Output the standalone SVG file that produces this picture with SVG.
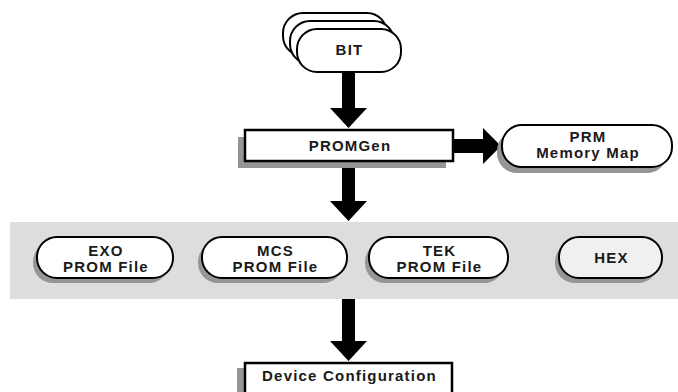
<svg xmlns="http://www.w3.org/2000/svg" width="678" height="392" viewBox="0 0 678 392">
<style>
.t{font-family:"Liberation Sans",Arial,sans-serif;font-weight:bold;font-size:15px;letter-spacing:1.2px;fill:#1a1a1a;text-anchor:middle}
.pill{fill:#fff;stroke:#000;stroke-width:2}
.box{fill:#fff;stroke:#000;stroke-width:2.5}
.sh{fill:#959595}
.arr{fill:#000}
</style>
<rect x="0" y="0" width="678" height="392" fill="#fff"/>
<rect id="band" x="10" y="222" width="668" height="77" fill="#dddddd"/>
<g id="connectors">
<path class="arr" d="M342,72 H355 V108 H367 L348.5,128 L330,108 H342 Z"/>
<path class="arr" d="M342,161 H355 V201 H367 L348.5,221 L330,201 H342 Z"/>
<path class="arr" d="M342,299 H355 V341 H367 L348.5,361 L330,341 H342 Z"/>
<path class="arr" d="M453,139 H483 V128 L501,146 L483,164 V153 H453 Z"/>
</g>
<g id="bit">
<rect class="pill" x="283" y="13" width="104" height="43" rx="20"/>
<rect class="pill" x="290" y="21" width="104" height="43" rx="20"/>
<rect class="pill" x="297" y="29" width="104" height="43" rx="20"/>
<text class="t" x="349.5" y="55">BIT</text>
</g>
<g id="promgen">
<rect class="sh" x="238" y="137" width="208" height="31"/>
<rect class="box" x="245" y="130" width="208" height="31"/>
<text class="t" x="350" y="151">PROMGen</text>
</g>
<g id="prm">
<rect class="sh" x="497" y="131" width="170" height="42" rx="20"/>
<rect class="pill" x="502" y="125" width="170" height="42" rx="20"/>
<text class="t" x="588" y="142">PRM</text>
<text class="t" x="588" y="158">Memory Map</text>
</g>
<g id="exo">
<rect class="sh" x="33" y="242" width="136" height="41" rx="20"/>
<rect class="pill" x="37" y="237" width="136" height="41" rx="20"/>
<text class="t" x="106" y="256">EXO</text>
<text class="t" x="106" y="272">PROM File</text>
</g>
<g id="mcs">
<rect class="sh" x="198" y="242" width="145" height="41" rx="20"/>
<rect class="pill" x="202" y="237" width="145" height="41" rx="20"/>
<text class="t" x="275.5" y="256">MCS</text>
<text class="t" x="275.5" y="272">PROM File</text>
</g>
<g id="tek">
<rect class="sh" x="365" y="242" width="139" height="41" rx="20"/>
<rect class="pill" x="369" y="237" width="139" height="41" rx="20"/>
<text class="t" x="439.5" y="256">TEK</text>
<text class="t" x="439.5" y="272">PROM File</text>
</g>
<g id="hex">
<rect class="sh" x="555" y="242" width="103" height="41" rx="20"/>
<rect class="pill" x="559" y="237" width="103" height="41" rx="20" style="fill:#f0f0f0"/>
<text class="t" x="611.5" y="263">HEX</text>
</g>
<g id="device">
<rect class="sh" x="237" y="368" width="207" height="30"/>
<rect class="box" x="245" y="363" width="207" height="34"/>
<text class="t" x="349.5" y="381">Device Configuration</text>
</g>
</svg>
